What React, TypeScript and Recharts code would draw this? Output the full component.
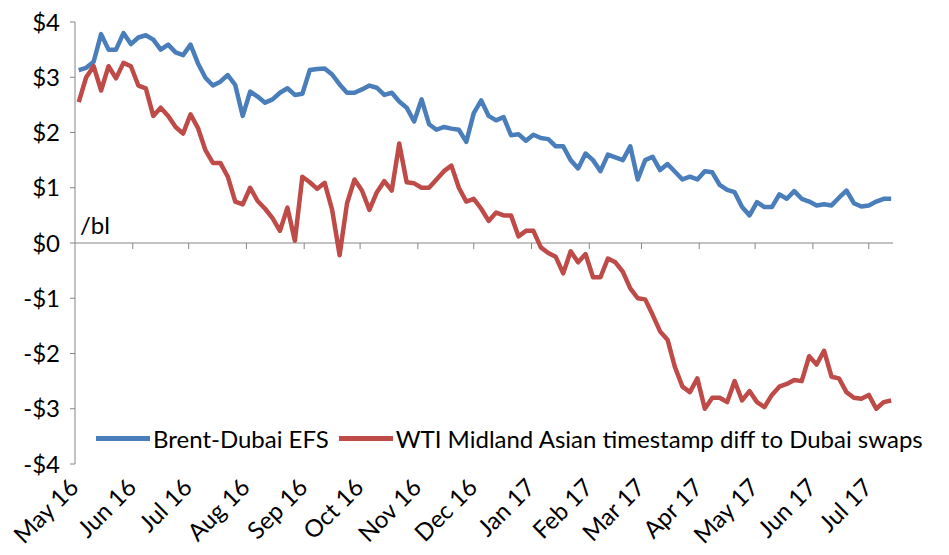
import React from "react";
import {
  Legend,
  Line,
  LineChart,
  ReferenceLine,
  XAxis,
  YAxis,
} from "recharts";

// month starts, counted in days from 1 May 2016
const monthLabels = [
  "May 16", "Jun 16", "Jul 16", "Aug 16", "Sep 16", "Oct 16", "Nov 16", "Dec 16",
  "Jan 17", "Feb 17", "Mar 17", "Apr 17", "May 17", "Jun 17", "Jul 17",
];
const monthStartDays = [0, 31, 61, 92, 123, 153, 184, 214, 245, 276, 304, 335, 365, 396, 426];

// readings every 4 days, starting 3 May 2016
const FIRST_DAY = 2;
const STEP_DAYS = 4;

const brentDubaiEfs = [
  3.13, 3.17, 3.28, 3.78, 3.5, 3.5, 3.8, 3.6, 3.72, 3.76,
  3.68, 3.5, 3.59, 3.45, 3.4, 3.59, 3.25, 2.99, 2.85, 2.92,
  3.04, 2.86, 2.3, 2.74, 2.65, 2.54, 2.6, 2.72, 2.8, 2.68,
  2.7, 3.13, 3.15, 3.16, 3.05, 2.87, 2.72, 2.72, 2.78, 2.85,
  2.81, 2.68, 2.72, 2.56, 2.45, 2.2, 2.6, 2.15, 2.05, 2.1,
  2.07, 2.05, 1.83, 2.35, 2.58, 2.3, 2.22, 2.28, 1.95, 1.97,
  1.85, 1.96, 1.9, 1.88, 1.75, 1.75, 1.5, 1.35, 1.62, 1.5,
  1.3, 1.6, 1.55, 1.5, 1.75, 1.15, 1.5, 1.56, 1.32, 1.43,
  1.29, 1.15, 1.2, 1.15, 1.3, 1.28, 1.05, 0.96, 0.92, 0.65,
  0.5, 0.74, 0.65, 0.65, 0.88, 0.8, 0.94, 0.8, 0.75, 0.68,
  0.7, 0.68, 0.82, 0.95, 0.72, 0.66, 0.68, 0.75, 0.8, 0.8,
];

const wtiMidlandDiff = [
  2.55, 3.0, 3.2, 2.76, 3.2, 2.98, 3.26, 3.2, 2.85, 2.8,
  2.3, 2.45, 2.3, 2.1, 1.98, 2.33, 2.08, 1.68, 1.45, 1.45,
  1.2, 0.75, 0.7, 1.0, 0.76, 0.62, 0.45, 0.22, 0.64, 0.04,
  1.2, 1.1, 0.98, 1.09, 0.6, -0.22, 0.72, 1.15, 0.95, 0.6,
  0.92, 1.12, 0.95, 1.8, 1.1, 1.08, 1.0, 1.0, 1.15, 1.3,
  1.4, 1.0, 0.75, 0.8, 0.62, 0.4, 0.55, 0.5, 0.5, 0.12,
  0.22, 0.22, -0.08, -0.18, -0.25, -0.55, -0.15, -0.35, -0.2, -0.62,
  -0.62, -0.28, -0.35, -0.52, -0.82, -1.0, -1.02, -1.3, -1.6, -1.75,
  -2.25, -2.6, -2.7, -2.45, -3.0, -2.8, -2.8, -2.88, -2.5, -2.85,
  -2.68, -2.88, -2.97, -2.75, -2.6, -2.55, -2.48, -2.5, -2.05, -2.2,
  -1.95, -2.42, -2.45, -2.7, -2.8, -2.82, -2.75, -3.0, -2.88, -2.85,
];

const yTicks = [-4, -3, -2, -1, 0, 1, 2, 3, 4];

const data = brentDubaiEfs.map((efs, i) => ({
  day: FIRST_DAY + i * STEP_DAYS,
  efs,
  wti: wtiMidlandDiff[i],
}));

const FONT = "Lato, 'Noto Sans', sans-serif";
const FONT_SIZE = 24;
const AXIS = "#868686";
const BLUE = "#4A7EBB";
const RED = "#BE4B48";

const dollar = (v: number) => (v < 0 ? `-$${-v}` : `$${v}`);

function MonthTick({ x, y, payload }: any) {
  const label = monthLabels[monthStartDays.indexOf(payload.value)];
  const ax = x + 5;
  const ay = y + 17;
  return (
    <text
      x={ax}
      y={ay}
      transform={`rotate(-45 ${ax} ${ay})`}
      textAnchor="end"
      fontSize={FONT_SIZE}
      fontFamily={FONT}
      fill="#000"
    >
      {label}
    </text>
  );
}

function LegendBox({ payload }: any) {
  return (
    <div style={{ display: "flex", alignItems: "center", fontFamily: FONT, fontSize: FONT_SIZE, color: "#000", whiteSpace: "nowrap" }}>
      {(payload || []).map((p: any) => (
        <div key={p.value} style={{ display: "flex", alignItems: "center", marginRight: 10 }}>
          <span style={{ display: "inline-block", width: 54, height: 5, background: p.color, marginRight: 3 }} />
          <span>{p.value}</span>
        </div>
      ))}
    </div>
  );
}

export default function App() {
  return (
    <div style={{ width: 949, height: 555, background: "#fff" }}>
      <style>{"body{margin:0}"}</style>
      <LineChart
        width={949}
        height={555}
        data={data}
        margin={{ top: 22, right: 56, left: 0, bottom: 6 }}
      >
        <XAxis
          dataKey="day"
          type="number"
          domain={[0, 439]}
          ticks={monthStartDays}
          interval={0}
          height={85}
          axisLine={false}
          tickLine={false}
          tick={<MonthTick />}
        />
        <YAxis
          domain={[-4, 4]}
          ticks={yTicks}
          width={75}
          tickFormatter={dollar}
          axisLine={{ stroke: AXIS }}
          tickLine={{ stroke: AXIS }}
          tickSize={5}
          tickMargin={10}
          tick={{ fill: "#000", fontSize: FONT_SIZE, fontFamily: FONT }}
        />
        <ReferenceLine
          y={0}
          stroke={AXIS}
          label={({ viewBox }: any) => (
            <text x={viewBox.x + 5} y={viewBox.y - 9} fontSize={FONT_SIZE} fontFamily={FONT} fill="#000">
              /bl
            </text>
          )}
        />
        {monthStartDays.slice(1).map((d) => (
          <ReferenceLine
            key={d}
            segment={[{ x: d, y: 0 }, { x: d, y: -0.11 }]}
            stroke={AXIS}
            ifOverflow="visible"
          />
        ))}
        <Line
          dataKey="efs"
          name="Brent-Dubai EFS"
          stroke={BLUE}
          strokeWidth={4.5}
          dot={false}
          strokeLinejoin="round"
          isAnimationActive={false}
        />
        <Line
          dataKey="wti"
          name="WTI Midland Asian timestamp diff to Dubai swaps"
          stroke={RED}
          strokeWidth={4.5}
          dot={false}
          strokeLinejoin="round"
          isAnimationActive={false}
        />
        <Legend
          layout="horizontal"
          verticalAlign="middle"
          align="center"
          content={<LegendBox />}
          wrapperStyle={{ left: 96, top: 424, width: "auto" }}
        />
      </LineChart>
    </div>
  );
}
